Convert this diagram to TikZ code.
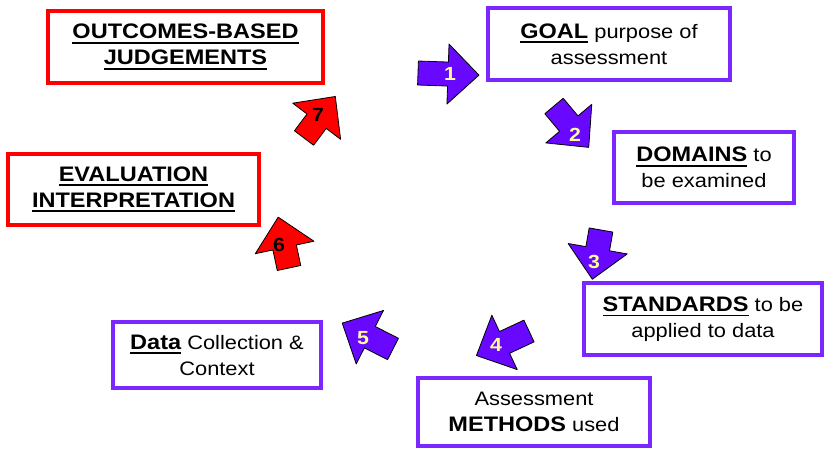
\documentclass[tikz,border=0pt]{standalone}
\usepackage{fontspec}
\setmainfont{Liberation Sans}[FakeStretch=1.12]
\definecolor{boxviolet}{RGB}{122,40,255}
\definecolor{arrowfill}{RGB}{104,8,255}
\definecolor{boxred}{RGB}{255,0,0}
\definecolor{numyellow}{RGB}{255,255,153}
% bold key word with a heavy underline
\newcommand\ulkey[1]{\vtop{\hbox{\fontsize{21}{26}\selectfont\bfseries #1}\kern3pt\hrule height 1.9pt}}
\newcommand\keyword[1]{{\fontsize{21}{26}\selectfont\bfseries #1}}
\begin{document}
\begin{tikzpicture}[x=1pt,y=-1pt,
  stagebox/.style={rectangle, draw=boxviolet, line width=3.3pt, fill=white,
    inner sep=0pt, align=center, font=\fontsize{19.5}{26}\selectfont},
  redstage/.style={stagebox, draw=boxred},
  violetarrow/.style={fill=arrowfill, draw=black, line width=0.8pt, line join=round},
  redarrow/.style={fill=boxred, draw=black, line width=0.8pt, line join=round},
  numlight/.style={font=\fontsize{19}{19}\selectfont\bfseries, text=numyellow, inner sep=0pt},
  numdark/.style={font=\fontsize{19}{19}\selectfont\bfseries, text=black, inner sep=0pt},
  pics/blockarrow/.style={code={
    \path[pic actions] (0,-12) -- ({#1-31},-12) -- ({#1-31},-30) -- (#1,0)
      -- ({#1-31},30) -- ({#1-31},12) -- (0,12) -- cycle;
  }}
]
\useasboundingbox (0,0) rectangle (824,448);

% stage boxes
\node[redstage, minimum width=275pt, minimum height=72pt] (outcomes) at (185.5,47)
  {\ulkey{OUTCOMES-BASED}\\\ulkey{JUDGEMENTS}};
\node[stagebox, minimum width=242pt, minimum height=72pt] (goal) at (609,44)
  {\ulkey{GOAL} purpose of\\assessment};
\node[stagebox, minimum width=180pt, minimum height=71pt] (domains) at (704,167.5)
  {\ulkey{DOMAINS} to\\be examined};
\node[stagebox, minimum width=238pt, minimum height=72pt] (standards) at (703,319)
  {\ulkey{STANDARDS} to be\\applied to data};
\node[stagebox, minimum width=232pt, minimum height=68pt] (methods) at (534,412)
  {Assessment\\\keyword{METHODS} used};
\node[stagebox, minimum width=208pt, minimum height=66pt] (data) at (217,355)
  {\ulkey{Data} Collection \&\\Context};
\node[redstage, minimum width=251pt, minimum height=71pt] (evaluation) at (133.5,189.5)
  {\ulkey{EVALUATION}\\\ulkey{INTERPRETATION}};

% numbered block arrows of the cycle
\pic[violetarrow, rotate=-2]   at (418,73)  {blockarrow=61};
\pic[violetarrow, rotate=-50]  at (554,106) {blockarrow=54};
\pic[violetarrow, rotate=-100] at (601,230) {blockarrow=50};
\pic[violetarrow, rotate=-155] at (529,331) {blockarrow=58};
\pic[violetarrow, rotate=153]  at (393,349) {blockarrow=57};
\pic[redarrow, rotate=102]     at (289,268) {blockarrow=52};
\pic[redarrow, rotate=53]      at (304,138) {blockarrow=52};

\node[numlight] (n1) at (450,74)  {1};
\node[numlight] (n2) at (575,135) {2};
\node[numlight] (n3) at (594,262) {3};
\node[numlight] (n4) at (496,345) {4};
\node[numlight] (n5) at (363,338) {5};
\node[numdark]  (n6) at (279,245) {6};
\node[numdark]  (n7) at (318,115) {7};
\end{tikzpicture}
\end{document}
